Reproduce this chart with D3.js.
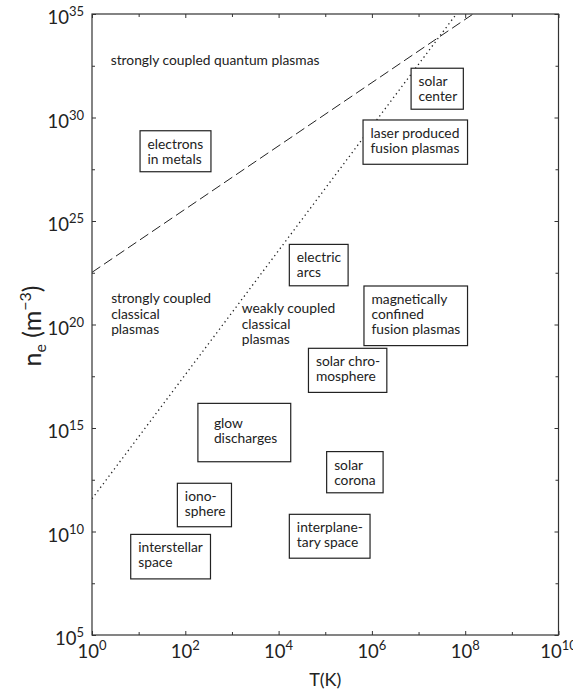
<!DOCTYPE html>
<html>
<head>
<meta charset="utf-8">
<script src="https://cdn.jsdelivr.net/npm/d3@7"></script>
<style>
  body { margin: 0; background: #fff; }
  text { font-family: Lato, "Open Sans", sans-serif; fill: #222; }
</style>
</head>
<body>
<script>
/* ------------------------------- data ------------------------------- */
// axis decades (log10)
const tempDecades = [0, 2, 4, 6, 8, 10];
const tempMinorDecades = [1, 3, 5, 7, 9];
const densDecades = [5, 10, 15, 20, 25, 30, 35];
const densMinorDecades = [7.5, 12.5, 17.5, 22.5, 27.5, 32.5];

// boundary lines (T in K, n in m^-3)
const degeneracyT = [1, 10 ** 8.17];
const degeneracyN = [10 ** 22.52, 1e35];
const couplingT = [1, 10 ** 7.81];
const couplingN = [10 ** 11.58, 1e35];

// plasma regions: label lines and log10 ranges
const regionLabels = [
  ["electrons", "in metals"],
  ["solar", "center"],
  ["laser produced", "fusion plasmas"],
  ["electric", "arcs"],
  ["magnetically", "confined", "fusion plasmas"],
  ["solar chro-", "mosphere"],
  ["glow", "discharges"],
  ["solar", "corona"],
  ["iono-", "sphere"],
  ["interplane-", "tary space"],
  ["interstellar", "space"]
];
const regionTmin = [1.03, 6.84, 5.81, 4.23, 5.83, 4.64, 2.27, 5.03, 1.83, 4.23, 0.83];
const regionTmax = [2.55, 7.96, 8.05, 5.49, 8.05, 6.32, 4.26, 6.24, 2.99, 5.96, 2.54];
const regionNmin = [27.38, 30.40, 27.74, 21.87, 18.98, 16.72, 13.37, 11.87, 10.23, 8.71, 7.71];
const regionNmax = [29.36, 32.38, 29.88, 23.87, 21.86, 18.85, 16.19, 13.86, 12.33, 10.83, 9.86];

// free annotations (anchor = first baseline, log10 values)
const zoneLabels = [
  ["strongly coupled quantum plasmas"],
  ["strongly coupled", "classical", "plasmas"],
  ["weakly coupled", "classical", "plasmas"]
];
const zoneT = [0.40, 0.41, 3.21];
const zoneN = [32.54, 21.02, 20.54];

/* ------------------------------ layout ------------------------------ */
const width = 573, height = 693;
const plot = { left: 92, right: 558.5, top: 14, bottom: 635 };
const ink = "#222";
const labelSize = 13.8;

const svg = d3.select("body").append("svg")
  .attr("width", width)
  .attr("height", height);

const x = d3.scaleLog().domain([1, 1e10]).range([plot.left, plot.right]);
const y = d3.scaleLog().domain([1e5, 1e35]).range([plot.bottom, plot.top]);

svg.append("clipPath").attr("id", "plotClip")
  .append("rect")
  .attr("x", plot.left).attr("y", plot.top)
  .attr("width", plot.right - plot.left).attr("height", plot.bottom - plot.top);

/* ------------------------------ lines ------------------------------- */
const line = d3.line().x(d => x(d[0])).y(d => y(d[1]));
const lines = svg.append("g").attr("clip-path", "url(#plotClip)");

lines.append("path")
  .attr("d", line(d3.zip(degeneracyT, degeneracyN)))
  .attr("fill", "none").attr("stroke", ink).attr("stroke-width", 1)
  .attr("stroke-dasharray", "10,4.5");

lines.append("path")
  .attr("d", line(d3.zip(couplingT, couplingN)))
  .attr("fill", "none").attr("stroke", ink).attr("stroke-width", 1.3)
  .attr("stroke-dasharray", "1.3,3.3");

/* ------------------------------ regions ----------------------------- */
const regions = regionLabels.map((lab, i) => ({
  lab,
  t0: 10 ** regionTmin[i], t1: 10 ** regionTmax[i],
  n0: 10 ** regionNmin[i], n1: 10 ** regionNmax[i]
}));

const boxes = svg.append("g").selectAll("g")
  .data(regions)
  .join("g");

boxes.append("rect")
  .attr("x", d => x(d.t0))
  .attr("y", d => y(d.n1))
  .attr("width", d => x(d.t1) - x(d.t0))
  .attr("height", d => y(d.n0) - y(d.n1))
  .attr("fill", "#fff")
  .attr("stroke", ink)
  .attr("stroke-width", 1.2);

// glow discharges label sits further in than the rest
const padFor = d => d.lab[0] === "glow" ? [16, 25] : [7.5, 18];

boxes.append("text")
  .attr("font-size", labelSize)
  .each(function (d) {
    const [px, py] = padFor(d);
    d3.select(this).selectAll("tspan")
      .data(d.lab)
      .join("tspan")
      .attr("x", x(d.t0) + px)
      .attr("y", (s, j) => y(d.n1) + py + j * 15)
      .text(s => s);
  });

svg.append("g").selectAll("text")
  .data(zoneLabels)
  .join("text")
  .attr("font-size", labelSize)
  .each(function (lab, i) {
    d3.select(this).selectAll("tspan")
      .data(lab)
      .join("tspan")
      .attr("x", x(10 ** zoneT[i]))
      .attr("y", (s, j) => y(10 ** zoneN[i]) + j * 15.5)
      .text(s => s);
  });

/* ------------------------------- frame ------------------------------ */
svg.append("rect")
  .attr("x", plot.left).attr("y", plot.top)
  .attr("width", plot.right - plot.left).attr("height", plot.bottom - plot.top)
  .attr("fill", "none").attr("stroke", "#333").attr("stroke-width", 1.2);

// inward ticks on all four sides
function tickAxis(gen, pos, values, size) {
  const g = svg.append("g")
    .attr("transform", pos)
    .call(gen.tickValues(values).tickSize(-size).tickSizeOuter(0).tickFormat(""));
  g.select(".domain").remove();
  g.selectAll("line").attr("stroke", "#333");
}
const xMajor = tempDecades.map(e => 10 ** e), xMinor = tempMinorDecades.map(e => 10 ** e);
const yMajor = densDecades.map(e => 10 ** e), yMinor = densMinorDecades.map(e => 10 ** e);
tickAxis(d3.axisBottom(x), `translate(0,${plot.bottom})`, xMajor, 4);
tickAxis(d3.axisBottom(x), `translate(0,${plot.bottom})`, xMinor, 3);
tickAxis(d3.axisTop(x), `translate(0,${plot.top})`, xMajor, 4);
tickAxis(d3.axisTop(x), `translate(0,${plot.top})`, xMinor, 3);
tickAxis(d3.axisLeft(y), `translate(${plot.left},0)`, yMajor, 4);
tickAxis(d3.axisLeft(y), `translate(${plot.left},0)`, yMinor, 3);
tickAxis(d3.axisRight(y), `translate(${plot.right},0)`, yMajor, 4);
tickAxis(d3.axisRight(y), `translate(${plot.right},0)`, yMinor, 3);

/* ---------------------------- tick labels --------------------------- */
function powerLabel(sel) {
  sel.append("tspan").text("10");
  sel.append("tspan").attr("font-size", 13).attr("dy", -8).text(d => d);
}

svg.append("g").selectAll("text")
  .data(tempDecades)
  .join("text")
  .attr("x", d => x(10 ** d))
  .attr("y", 658)
  .attr("text-anchor", "middle")
  .attr("font-size", 18.5)
  .call(powerLabel);

svg.append("g").selectAll("text")
  .data(densDecades)
  .join("text")
  .attr("x", plot.left - 8)
  .attr("y", d => y(10 ** d) + 10)
  .attr("text-anchor", "end")
  .attr("font-size", 18.5)
  .call(powerLabel);

/* ---------------------------- axis titles --------------------------- */
svg.append("text")
  .attr("x", (plot.left + plot.right) / 2)
  .attr("y", 686)
  .attr("text-anchor", "middle")
  .attr("font-size", 18)
  .text("T(K)");

const yTitle = svg.append("text")
  .attr("transform", "translate(41,326) rotate(-90)")
  .attr("text-anchor", "middle")
  .attr("font-size", 25);
yTitle.append("tspan").text("n");
yTitle.append("tspan").attr("font-size", 16).attr("dy", 5).text("e");
yTitle.append("tspan").attr("dy", -5).text(" (m");
yTitle.append("tspan").attr("font-size", 16).attr("dy", -10).text("\u22123");
yTitle.append("tspan").attr("dy", 10).text(")");
</script>
</body>
</html>
